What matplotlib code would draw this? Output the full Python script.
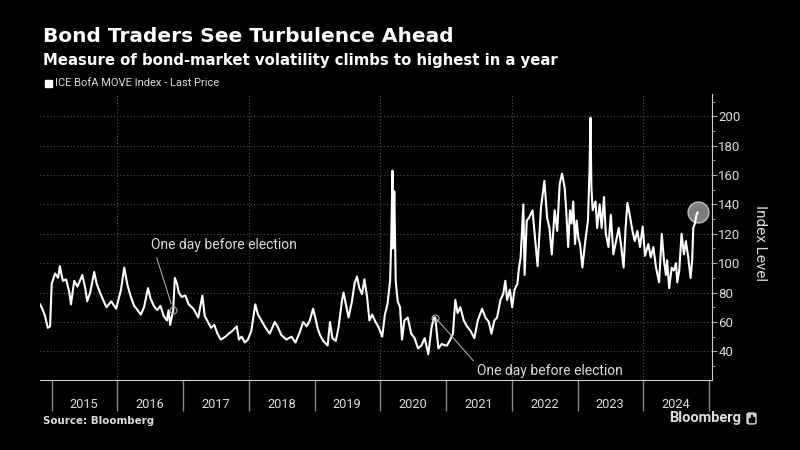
import matplotlib
matplotlib.use("Agg")
import matplotlib.pyplot as plt
import matplotlib.dates as mdates
from matplotlib.ticker import MultipleLocator
from matplotlib.patches import Rectangle, FancyBboxPatch
import pandas as pd

# ICE BofA MOVE Index
dates = [
    "2014-10-29", "2014-11-11", "2014-11-26", "2014-12-11", "2014-12-24",
    "2015-01-02", "2015-01-21", "2015-02-07", "2015-02-16", "2015-03-05", "2015-03-23",
    "2015-04-10", "2015-04-19", "2015-05-07", "2015-05-25", "2015-06-21", "2015-07-09",
    "2015-07-18", "2015-08-04", "2015-08-26", "2015-09-09", "2015-09-27", "2015-10-15",
    "2015-11-02", "2015-11-29", "2015-12-26",
    "2016-01-22", "2016-02-09", "2016-02-27", "2016-03-17", "2016-04-04", "2016-04-23",
    "2016-05-11", "2016-05-29", "2016-06-20", "2016-07-04", "2016-07-22", "2016-08-10",
    "2016-08-28", "2016-09-15", "2016-10-03", "2016-10-12", "2016-10-21", "2016-11-07",
    "2016-11-16", "2016-11-28", "2016-12-08", "2016-12-24",
    "2017-01-13", "2017-02-01", "2017-02-27", "2017-03-26", "2017-04-18", "2017-05-01",
    "2017-05-19", "2017-06-05", "2017-06-23", "2017-07-11", "2017-07-29", "2017-08-24",
    "2017-09-11", "2017-10-02", "2017-10-26", "2017-11-07", "2017-11-22", "2017-12-10",
    "2017-12-27",
    "2018-01-15", "2018-02-06", "2018-02-21", "2018-03-12", "2018-03-30", "2018-04-27",
    "2018-05-25", "2018-06-09", "2018-07-01", "2018-07-29", "2018-08-26", "2018-09-17",
    "2018-10-11", "2018-10-30", "2018-11-18", "2018-12-06", "2018-12-24",
    "2019-01-05", "2019-01-20", "2019-02-01", "2019-02-19", "2019-03-15", "2019-03-28",
    "2019-04-10", "2019-04-29", "2019-05-14", "2019-06-02", "2019-06-11", "2019-06-24",
    "2019-07-09", "2019-07-28", "2019-08-11", "2019-08-25", "2019-09-07", "2019-09-22",
    "2019-10-05", "2019-10-20", "2019-11-02", "2019-11-17", "2019-12-06", "2019-12-24",
    "2020-01-12", "2020-01-27", "2020-02-10", "2020-02-25", "2020-03-02", "2020-03-09",
    "2020-03-13", "2020-03-19", "2020-03-27", "2020-04-07", "2020-04-20", "2020-05-01",
    "2020-05-14", "2020-06-02", "2020-06-21", "2020-07-10", "2020-07-29", "2020-08-17",
    "2020-09-04", "2020-09-24", "2020-10-12", "2020-10-25", "2020-11-02", "2020-11-19",
    "2020-12-08", "2020-12-26",
    "2021-01-06", "2021-01-24", "2021-02-08", "2021-02-21", "2021-03-06", "2021-03-21",
    "2021-04-09", "2021-04-27", "2021-05-16", "2021-06-07", "2021-06-26", "2021-07-20",
    "2021-08-07", "2021-08-26", "2021-09-10", "2021-09-26", "2021-10-11", "2021-10-30",
    "2021-11-14", "2021-11-26", "2021-12-06", "2021-12-21",
    "2022-01-03", "2022-01-16", "2022-02-01", "2022-02-10", "2022-02-19", "2022-03-06",
    "2022-03-13", "2022-03-25", "2022-04-07", "2022-04-26", "2022-05-09", "2022-05-24",
    "2022-06-12", "2022-07-01", "2022-07-16", "2022-07-29", "2022-08-11", "2022-08-27",
    "2022-09-10", "2022-09-24", "2022-10-07", "2022-10-22", "2022-10-30", "2022-11-10",
    "2022-11-20", "2022-11-29", "2022-12-08", "2022-12-18", "2022-12-27",
    "2023-01-06", "2023-01-15", "2023-01-28", "2023-02-13", "2023-02-28", "2023-03-09",
    "2023-03-14", "2023-03-19", "2023-03-26", "2023-04-11", "2023-04-20", "2023-05-04",
    "2023-05-15", "2023-05-28", "2023-06-07", "2023-06-22", "2023-07-05", "2023-07-19",
    "2023-08-03", "2023-08-18", "2023-09-01", "2023-09-14", "2023-09-25", "2023-10-05",
    "2023-10-18", "2023-11-02", "2023-11-15", "2023-11-29", "2023-12-14", "2023-12-29",
    "2024-01-11", "2024-01-29", "2024-02-12", "2024-02-26", "2024-03-12", "2024-03-29",
    "2024-04-13", "2024-04-25", "2024-05-06", "2024-05-13", "2024-05-24", "2024-06-07",
    "2024-06-19", "2024-07-01", "2024-07-08", "2024-07-19", "2024-08-01", "2024-08-14",
    "2024-08-25", "2024-09-07", "2024-09-20", "2024-09-29", "2024-10-05", "2024-10-14",
    "2024-10-23", "2024-10-29",
]
move_index = [
    72, 69, 64, 56, 57,
    86, 93, 90, 98, 88, 89, 80, 72, 88, 84, 92, 82, 74, 80, 94, 86, 80, 75, 70, 74, 69,
    82, 97, 85, 77, 71, 68, 65, 70, 83, 76, 71, 68, 71, 64, 61, 68, 58, 68, 90, 86, 80, 77,
    78, 72, 69, 63, 78, 64, 60, 56, 58, 52, 48, 50, 52, 54, 57, 48, 50, 46, 48,
    54, 72, 65, 61, 57, 52, 60, 57, 51, 48, 50, 46, 53, 60, 57, 61, 69,
    63, 55, 51, 47, 44, 60, 49, 47, 56, 74, 80, 72, 63, 74, 86, 91, 83, 79, 89, 77, 61, 65,
    60, 56,
    50, 65, 72, 88, 115, 163, 110, 149, 88, 74, 70, 48, 61, 63, 52, 49, 42, 44, 49, 38, 56,
    63, 63, 42, 45, 44,
    44, 48, 52, 75, 66, 70, 61, 57, 54, 49, 61, 69, 63, 60, 52, 61, 63, 75, 79, 88, 75, 82,
    70, 82, 86, 97, 104, 140, 92, 129, 131, 136, 118, 98, 138, 156, 131, 124, 106, 136, 122,
    154, 161, 151, 136, 111, 136, 127, 142, 113, 129,
    117, 113, 97, 115, 129, 165, 199, 152, 136, 142, 124, 140, 124, 145, 120, 111, 133, 106,
    115, 124, 111, 97, 124, 141, 133, 122, 115, 122, 111, 125,
    105, 113, 104, 111, 97, 87, 120, 102, 92, 102, 83, 97, 95, 100, 87, 95, 120, 106, 115,
    104, 90, 102, 124, 127, 133, 134.5,
]

# Annotated points
election_dates = ["2016-11-07", "2020-11-02"]
election_label = "One day before election"

BG = "black"
FG = "white"
TXT = "#dddddd"
GRID = "#555555"
FONT = ["Roboto", "DejaVu Sans"]
HEAD_FONT = ["DejaVu Sans"]


def plot_chart(out_path="out.png"):
    plt.rcParams["font.family"] = FONT
    s = pd.Series(move_index, index=pd.to_datetime(dates))

    fig = plt.figure(figsize=(8, 4.5), dpi=100, facecolor=BG)
    ax = fig.add_axes([0.05, 0.1556, 0.84, 0.635], facecolor=BG)

    # main line and the highlight circle at the last point
    ax.plot(s.index, s.values, color=FG, lw=1.5, zorder=3)
    ax.plot(s.index[-1], s.values[-1], "o", ms=15, mfc="#8c8c8c", mec="#cfcfcf",
            mew=1.0, alpha=0.9, zorder=2)

    ax.set_xlim(pd.Timestamp("2014-10-29"), pd.Timestamp("2025-01-17"))
    ax.set_ylim(20.5, 215)

    # spines
    for side in ["top", "left"]:
        ax.spines[side].set_visible(False)
    ax.spines["bottom"].set_color("#cccccc")
    ax.spines["right"].set_color("#cccccc")

    # right y axis
    ax.yaxis.tick_right()
    ax.set_yticks(range(40, 201, 20))
    ax.yaxis.set_minor_locator(MultipleLocator(10))
    ax.tick_params(axis="y", which="major", length=3.5, color="#aaaaaa",
                   labelcolor=TXT, labelsize=9.5, pad=1)
    ax.tick_params(axis="y", which="minor", length=2, color="#aaaaaa")
    ax.yaxis.grid(True, which="major", linestyle=(0, (1, 2)), color=GRID, lw=0.8)
    fig.text(760 / 800, 1 - 243 / 450, "Index Level", rotation=270, ha="center",
             va="center", color=TXT, fontsize=11)

    # x axis: long year ticks, labels centred between them
    ax.xaxis.set_major_locator(mdates.YearLocator())
    ax.xaxis.set_major_formatter(plt.NullFormatter())
    ax.xaxis.set_minor_locator(mdates.MonthLocator(bymonth=7, bymonthday=1))
    ax.xaxis.set_minor_formatter(mdates.DateFormatter("%Y"))
    ax.tick_params(axis="x", which="major", length=22, color="#888888", width=1)
    ax.tick_params(axis="x", which="minor", length=0, pad=13, labelsize=9.2,
                   labelcolor=TXT)
    for yr in range(2016, 2025, 2):
        ax.axvline(pd.Timestamp(f"{yr}-01-01"), linestyle=(0, (1, 2)), color=GRID,
                   lw=0.8, zorder=1)

    # election annotations
    d1 = pd.Timestamp(election_dates[0])
    d2 = pd.Timestamp(election_dates[1])
    ax.plot([d1, d2], [s[d1], s[d2]], "o", ms=5, mfc="none", mec="#aaaaaa",
            mew=0.8, zorder=4)
    ax.annotate(election_label, xy=(d1, s[d1]), xytext=(pd.Timestamp("2016-07-04"), 112.3),
                color=TXT, fontsize=10, ha="left", va="center",
                arrowprops=dict(arrowstyle="-", color="#aaaaaa", lw=0.8,
                                relpos=(0.03, 0.0), shrinkA=2, shrinkB=5))
    ax.annotate(election_label, xy=(d2, s[d2]), xytext=(pd.Timestamp("2021-06-22"), 26.9),
                color=TXT, fontsize=10, ha="left", va="center",
                arrowprops=dict(arrowstyle="-", color="#aaaaaa", lw=0.8,
                                relpos=(0.0, 0.9), shrinkA=1, shrinkB=2))

    # titles and legend
    fig.text(43 / 800, 1 - 37 / 450, "Bond Traders See Turbulence Ahead", color=FG,
             fontsize=14.5, fontweight="bold", family=HEAD_FONT, ha="left", va="center")
    fig.text(43 / 800, 1 - 60 / 450,
             "Measure of bond-market volatility climbs to highest in a year",
             color=FG, fontsize=10.7, fontweight="bold", family=HEAD_FONT,
             ha="left", va="center")
    fig.add_artist(Rectangle((45 / 800, 1 - 87 / 450), 7 / 800, 7 / 450,
                             transform=fig.transFigure, color=FG))
    fig.text(55 / 800, 1 - 83 / 450, "ICE BofA MOVE Index - Last Price", color=TXT,
             fontsize=8, ha="left", va="center")

    # footer
    fig.text(43 / 800, 1 - 421 / 450, "Source: Bloomberg", color=TXT, fontsize=7.4,
             fontweight="bold", family=HEAD_FONT, ha="left", va="center")
    fig.text(741 / 800, 1 - 418 / 450, "Bloomberg", color=TXT, fontsize=10.5,
             fontweight="bold", ha="right", va="center")
    fig.add_artist(FancyBboxPatch((747 / 800, 1 - 424 / 450), 9 / 800, 11 / 450,
                                  boxstyle="round,pad=0,rounding_size=0.003",
                                  transform=fig.transFigure, color="#cccccc"))
    for i, h in enumerate([4, 7, 5]):
        fig.add_artist(Rectangle(((749 + 2 * i) / 800, 1 - 422 / 450), 1 / 800, h / 450,
                                 transform=fig.transFigure, color=BG))

    fig.savefig(out_path, dpi=100, facecolor=BG)
    plt.close(fig)


if __name__ == "__main__":
    plot_chart()
